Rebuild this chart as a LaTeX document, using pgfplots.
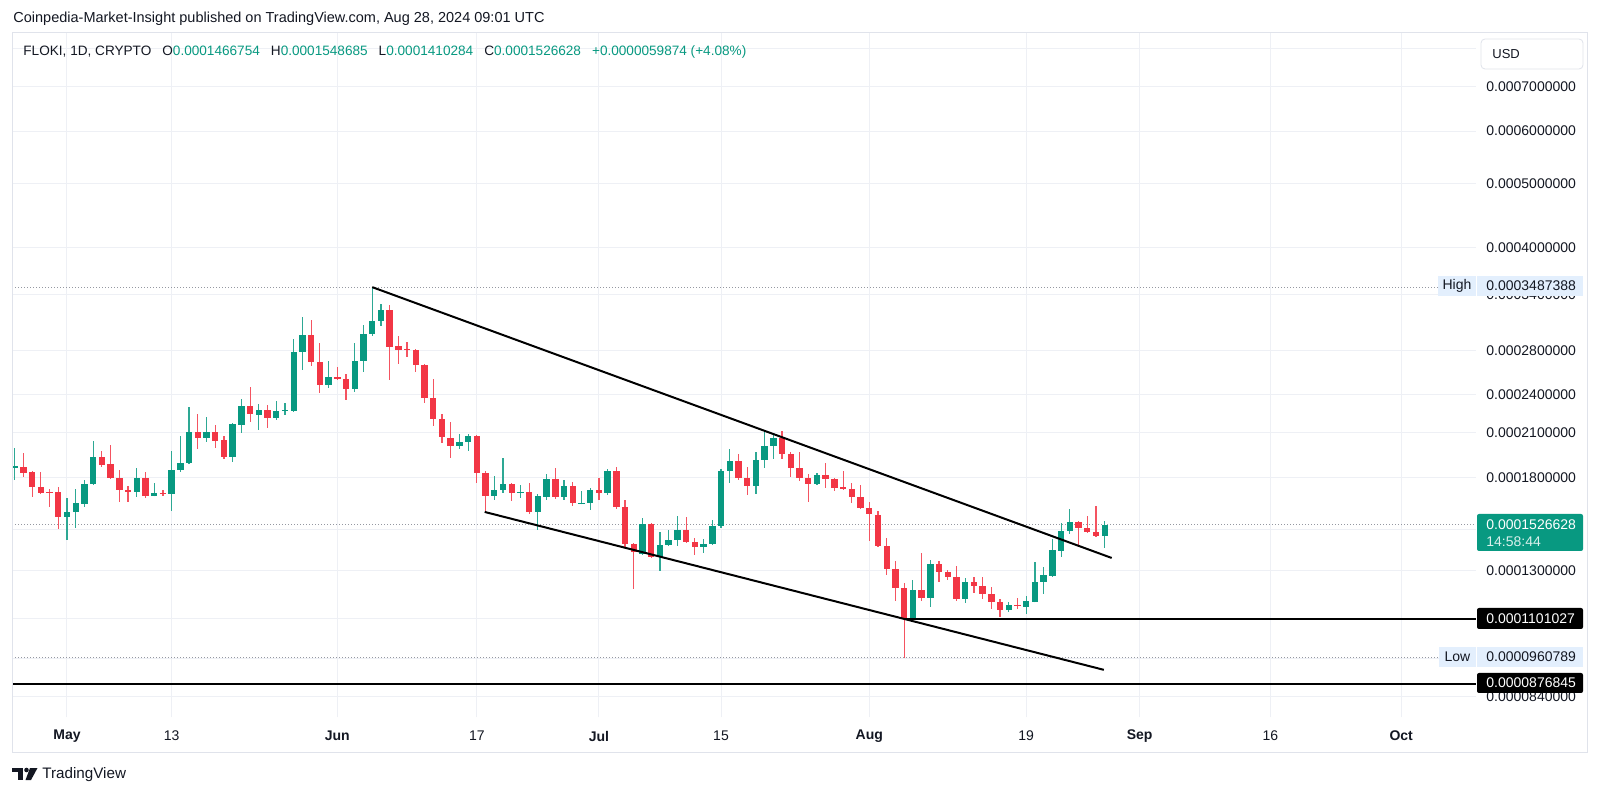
\documentclass[border=0pt]{standalone}
\usepackage{pgfplots}
\pgfplotsset{compat=1.18}
\usepackage{pgfplotstable}
\usepackage{fontspec}
\setmainfont{Liberation Sans}

\definecolor{tvgreen}{HTML}{089981}
\definecolor{tvred}{HTML}{F23645}
\definecolor{tvtext}{HTML}{131722}
\definecolor{gridc}{HTML}{EEF0F5}
\definecolor{bordc}{HTML}{E0E3EB}
\definecolor{hlbg}{HTML}{E3EFFD}
\definecolor{dotc}{HTML}{9598A1}

% FLOKI daily candles, prices in 1e-4 USD, d = days since 1 May 2024
\pgfplotstableread{
d o h l c
-6 1.860 1.994 1.784 1.873
-5 1.867 1.960 1.803 1.828
-4 1.834 1.841 1.682 1.741
-3 1.741 1.834 1.700 1.705
-2 1.711 1.729 1.624 1.705
-1 1.711 1.741 1.505 1.569
0 1.569 1.676 1.448 1.596
1 1.596 1.729 1.510 1.647
2 1.641 1.784 1.624 1.760
3 1.760 2.043 1.753 1.933
4 1.933 1.973 1.867 1.880
5 1.886 2.015 1.792 1.797
6 1.797 1.847 1.653 1.723
7 1.723 1.747 1.653 1.711
8 1.711 1.860 1.682 1.797
9 1.797 1.834 1.676 1.688
10 1.688 1.766 1.685 1.705
11 1.705 1.723 1.688 1.699
12 1.699 1.973 1.602 1.847
13 1.847 2.079 1.834 1.893
14 1.893 2.299 1.885 2.108
15 2.108 2.244 1.987 2.065
16 2.065 2.221 2.036 2.108
17 2.108 2.160 1.994 2.043
18 2.050 2.079 1.919 1.933
19 1.933 2.175 1.899 2.167
20 2.160 2.364 2.101 2.307
21 2.307 2.465 2.183 2.244
22 2.236 2.324 2.123 2.276
23 2.276 2.315 2.138 2.213
24 2.213 2.348 2.198 2.268
25 2.268 2.332 2.236 2.274
26 2.268 2.912 2.262 2.784
27 2.784 3.144 2.615 2.953
28 2.953 3.111 2.652 2.689
29 2.689 2.872 2.414 2.482
30 2.482 2.698 2.456 2.552
31 2.552 2.642 2.526 2.534
32 2.534 2.579 2.356 2.448
33 2.448 2.872 2.422 2.698
34 2.698 3.058 2.597 2.963
35 2.963 3.487 2.943 3.100
36 3.100 3.289 3.047 3.221
37 3.221 3.278 2.526 2.833
38 2.842 2.943 2.670 2.803
39 2.813 2.882 2.736 2.803
40 2.803 2.810 2.597 2.661
41 2.661 2.670 2.332 2.372
42 2.372 2.534 2.152 2.205
43 2.205 2.244 2.029 2.072
44 2.065 2.183 1.926 2.008
45 2.008 2.093 1.987 2.036
46 2.036 2.093 1.973 2.079
47 2.079 2.086 1.766 1.828
48 1.828 1.841 1.596 1.688
49 1.688 1.809 1.664 1.723
50 1.723 1.926 1.705 1.760
51 1.760 1.764 1.659 1.705
52 1.705 1.753 1.676 1.711
53 1.711 1.766 1.585 1.596
54 1.596 1.699 1.500 1.688
55 1.682 1.822 1.664 1.790
56 1.790 1.860 1.670 1.682
57 1.682 1.784 1.664 1.747
58 1.747 1.772 1.630 1.647
59 1.641 1.717 1.638 1.647
60 1.647 1.735 1.607 1.723
61 1.723 1.797 1.664 1.705
62 1.705 1.854 1.693 1.841
63 1.841 1.867 1.613 1.624
64 1.624 1.664 1.413 1.428
65 1.428 1.432 1.222 1.389
66 1.379 1.563 1.375 1.531
67 1.531 1.536 1.360 1.365
68 1.365 1.489 1.300 1.423
69 1.423 1.500 1.418 1.448
70 1.448 1.574 1.418 1.500
71 1.500 1.569 1.433 1.438
72 1.438 1.458 1.375 1.413
73 1.413 1.453 1.384 1.428
74 1.428 1.553 1.423 1.520
75 1.520 1.854 1.510 1.841
76 1.841 1.987 1.766 1.906
77 1.906 1.953 1.784 1.797
78 1.797 1.867 1.693 1.747
79 1.747 1.966 1.699 1.913
80 1.913 2.108 1.860 2.008
81 2.008 2.101 1.919 2.065
82 2.065 2.115 1.919 1.953
83 1.953 1.966 1.803 1.860
84 1.860 1.966 1.778 1.797
85 1.797 1.822 1.653 1.760
86 1.760 1.828 1.753 1.815
87 1.815 1.893 1.735 1.790
88 1.790 1.795 1.717 1.735
89 1.741 1.841 1.723 1.729
90 1.729 1.766 1.647 1.682
91 1.682 1.753 1.613 1.619
92 1.619 1.653 1.443 1.585
93 1.580 1.602 1.413 1.418
94 1.418 1.458 1.282 1.309
95 1.309 1.346 1.172 1.226
96 1.226 1.247 0.9608 1.101
97 1.101 1.260 1.098 1.217
98 1.217 1.384 1.172 1.184
99 1.184 1.351 1.147 1.332
100 1.332 1.346 1.252 1.296
101 1.296 1.305 1.260 1.273
102 1.273 1.323 1.172 1.180
103 1.180 1.269 1.163 1.252
104 1.252 1.273 1.205 1.234
105 1.234 1.273 1.180 1.200
106 1.200 1.230 1.140 1.168
107 1.168 1.180 1.108 1.136
108 1.136 1.168 1.128 1.155
109 1.155 1.184 1.140 1.151
110 1.147 1.192 1.120 1.172
111 1.168 1.342 1.165 1.252
112 1.252 1.319 1.200 1.282
113 1.278 1.453 1.275 1.399
114 1.394 1.536 1.365 1.494
115 1.494 1.613 1.479 1.542
116 1.542 1.547 1.413 1.510
117 1.510 1.574 1.484 1.489
118 1.489 1.630 1.464 1.469
119 1.466754 1.548685 1.410284 1.526628
}\floki

\begin{document}
\begin{tikzpicture}
% page in pixels of the reference
\begin{scope}[x=0.5pt,y=-0.5pt]
  \path[use as bounding box, fill=white] (0,0) rectangle (1600,795);
\end{scope}

\begin{axis}[
    at={(6pt,-358.5pt)}, anchor=south west,
    scale only axis, width=732pt, height=342pt,
    xmin=-6.307, xmax=161.58,
    ymode=log, ymin=0.78246, ymax=8.4365,
    axis line style={draw=none},
    tick style={draw=none}, major tick length=0pt,
    grid=major, major grid style={draw=gridc, line width=0.5pt},
    xtick={0,12,31,47,61,75,92,110,123,138,153},
    xticklabels={\textbf{May},13,\textbf{Jun},17,\textbf{Jul},15,\textbf{Aug},19,\textbf{Sep},16,\textbf{Oct}},
    xticklabel style={anchor=center, inner sep=0pt, yshift=-9.5pt,
        font=\fontsize{7}{8}\selectfont, text=tvtext},
    ytick={0.84,0.96,1.1,1.3,1.5,1.8,2.1,2.4,2.8,3.4,4,5,6,7,8},
    % labels hidden behind the price boxes are left empty
    yticklabels={0.0000840000,{},{},0.0001300000,{},
        0.0001800000,0.0002100000,0.0002400000,0.0002800000,0.0003400000,
        0.0004000000,0.0005000000,0.0006000000,0.0007000000,{}},
    yticklabel pos=right,
    yticklabel style={anchor=west, inner sep=0pt, xshift=5pt,
        font=\fontsize{7}{8}\selectfont, text=tvtext},
]
% high / low / last price dotted lines
\addplot[dotc, line width=0.5pt, dash pattern=on 0.5pt off 1pt, forget plot]
    coordinates {(-6.307,3.487388) (161.58,3.487388)};
\addplot[dotc, line width=0.5pt, dash pattern=on 0.5pt off 1pt, forget plot]
    coordinates {(-6.307,0.960789) (161.58,0.960789)};
\addplot[dotc, line width=0.5pt, dash pattern=on 0.5pt off 1pt, forget plot]
    coordinates {(-6.307,1.526628) (161.58,1.526628)};

% wicks
\addplot[draw=none, mark=none, forget plot,
    restrict expr to domain={\thisrow{c}-\thisrow{o}}{0:10},
    error bars/.cd, y dir=plus, y explicit, error mark=none,
    error bar style={draw=tvgreen!85, line width=0.6pt}]
    table[x=d, y=l, y error plus expr=\thisrow{h}-\thisrow{l}] {\floki};
\addplot[draw=none, mark=none, forget plot,
    restrict expr to domain={\thisrow{c}-\thisrow{o}}{-10:-0.00001},
    error bars/.cd, y dir=plus, y explicit, error mark=none,
    error bar style={draw=tvred!85, line width=0.6pt}]
    table[x=d, y=l, y error plus expr=\thisrow{h}-\thisrow{l}] {\floki};
% bodies
\addplot[draw=none, mark=none, forget plot,
    restrict expr to domain={\thisrow{c}-\thisrow{o}}{0:10},
    error bars/.cd, y dir=plus, y explicit, error mark=none,
    error bar style={draw=tvgreen, line width=3.2pt}]
    table[x=d, y=o, y error plus expr=\thisrow{c}-\thisrow{o}] {\floki};
\addplot[draw=none, mark=none, forget plot,
    restrict expr to domain={\thisrow{c}-\thisrow{o}}{-10:-0.00001},
    error bars/.cd, y dir=plus, y explicit, error mark=none,
    error bar style={draw=tvred, line width=3.2pt}]
    table[x=d, y=c, y error plus expr=\thisrow{o}-\thisrow{c}] {\floki};

% drawn trend lines and levels
\addplot[black, line width=1pt, forget plot] coordinates {(35,3.487) (119.8,1.360)};
\addplot[black, line width=1pt, forget plot] coordinates {(47.9,1.596) (118.9,0.9218)};
\addplot[black, line width=0.8pt, forget plot] coordinates {(96,1.101027) (161.58,1.101027)};
\addplot[black, line width=0.8pt, forget plot] coordinates {(-6.307,0.876845) (161.58,0.876845)};
\end{axis}

\begin{scope}[x=0.5pt,y=-0.5pt, every node/.style={inner sep=0pt, text=tvtext}]
  \draw[bordc, line width=0.5pt] (12,33) rectangle (1587,752);
  % header
  \node[anchor=west, font=\fontsize{7.25}{9}\selectfont] at (13,19)
    {Coinpedia-Market-Insight published on TradingView.com, Aug 28, 2024 09:01 UTC};
  \node[anchor=west, font=\fontsize{6.8}{8}\selectfont] at (23,52)
    {FLOKI, 1D, CRYPTO\hspace{5.5pt}O\textcolor{tvgreen}{0.0001466754}\hspace{5.5pt}H\textcolor{tvgreen}{0.0001548685}\hspace{5.5pt}L\textcolor{tvgreen}{0.0001410284}\hspace{5.5pt}C\textcolor{tvgreen}{0.0001526628}\hspace{5.5pt}\textcolor{tvgreen}{+0.0000059874 (+4.08\%)}};
  % currency box
  \draw[bordc, fill=white, rounded corners=2pt] (1481,39) rectangle (1583,69);
  \node[anchor=west, font=\fontsize{6.5}{8}\selectfont] at (1492,54) {USD};
  % price labels
  \begin{scope}[every node/.append style={font=\fontsize{7}{8}\selectfont}]
    \fill[hlbg] (1438,276) rectangle (1476,296);
    \fill[hlbg] (1477,276) rectangle (1583,296);
    \node at (1457,286) {High};
    \node[anchor=west] at (1486,286) {0.0003487388};
    \fill[tvgreen, rounded corners=1pt] (1477,514) rectangle (1583,551);
    \node[anchor=west, text=white] at (1486,525) {0.0001526628};
    \node[anchor=west, text=white!85!tvgreen] at (1486,542) {14:58:44};
    \fill[black, rounded corners=1pt] (1477,608) rectangle (1583,629);
    \node[anchor=west, text=white] at (1486,618.5) {0.0001101027};
    \fill[hlbg] (1439,647) rectangle (1476,667);
    \fill[hlbg] (1477,647) rectangle (1583,667);
    \node at (1457.5,657) {Low};
    \node[anchor=west] at (1486,657) {0.0000960789};
    \fill[black, rounded corners=1pt] (1477,673) rectangle (1583,693);
    \node[anchor=west, text=white] at (1486,683) {0.0000876845};
  \end{scope}
  % TradingView logo
  \fill[tvtext] (12,768) rectangle (23,772);
  \fill[tvtext] (18,768) rectangle (23,780);
  \fill[tvtext] (26.5,770) circle (2.3);
  \fill[tvtext] (30,768) -- (37.5,768) -- (31,780) -- (25.5,780) -- cycle;
  \node[anchor=west, font=\fontsize{7.6}{9}\selectfont] at (42,775) {TradingView};
\end{scope}
\end{tikzpicture}
\end{document}
